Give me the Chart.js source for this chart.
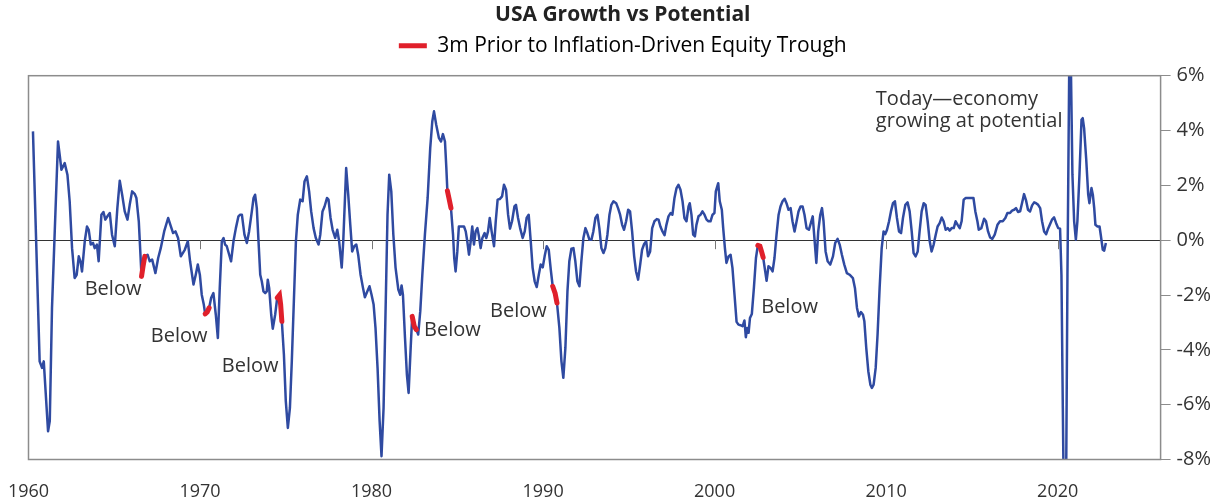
<!DOCTYPE html>
<html>
<head>
<meta charset="utf-8">
<title>USA Growth vs Potential</title>
<script src="https://cdn.jsdelivr.net/npm/chart.js@4"></script>
<style>
  html, body { margin: 0; padding: 0; background: #fff; }
  #wrap { width: 1220px; height: 502px; }
</style>
</head>
<body>
<div id="wrap"><canvas id="growthChart" width="1220" height="502"></canvas></div>
<script>
// Growth vs potential, %
const years = [
  1960.26, 1960.65, 1960.79, 1960.89, 1961.14, 1961.24, 1961.37, 1961.53, 1961.72, 1961.82,
  1961.92, 1962.11, 1962.27, 1962.40, 1962.54, 1962.69, 1962.81, 1962.93, 1963.03, 1963.12,
  1963.28, 1963.41, 1963.51, 1963.63, 1963.76, 1963.86, 1963.99, 1964.09, 1964.25, 1964.37,
  1964.48, 1964.60, 1964.74, 1964.87, 1965.03, 1965.18, 1965.32, 1965.46, 1965.61, 1965.77,
  1965.90, 1966.04, 1966.20, 1966.29, 1966.43, 1966.59, 1966.68, 1966.78, 1966.94, 1967.07,
  1967.21, 1967.40, 1967.56, 1967.71, 1967.91, 1968.14, 1968.30, 1968.43, 1968.57, 1968.72,
  1968.88, 1969.11, 1969.29, 1969.42, 1969.62, 1969.75, 1969.87, 1969.99, 1970.10, 1970.22,
  1970.30, 1970.42, 1970.53, 1970.65, 1970.78, 1970.92, 1971.04, 1971.15, 1971.27, 1971.37,
  1971.46, 1971.56, 1971.70, 1971.81, 1971.95, 1972.09, 1972.24, 1972.34, 1972.44, 1972.59,
  1972.73, 1972.86, 1973.02, 1973.12, 1973.21, 1973.31, 1973.41, 1973.51, 1973.60, 1973.70,
  1973.80, 1973.89, 1973.95, 1974.03, 1974.15, 1974.24, 1974.38, 1974.50, 1974.63, 1974.70,
  1974.77, 1974.89, 1975.00, 1975.12, 1975.24, 1975.35, 1975.47, 1975.59, 1975.70, 1975.84,
  1975.98, 1976.09, 1976.23, 1976.36, 1976.48, 1976.62, 1976.75, 1976.91, 1977.01, 1977.14,
  1977.26, 1977.40, 1977.49, 1977.61, 1977.73, 1977.88, 1978.00, 1978.11, 1978.26, 1978.35,
  1978.52, 1978.64, 1978.76, 1978.87, 1978.99, 1979.11, 1979.22, 1979.36, 1979.50, 1979.61,
  1979.75, 1979.88, 1980.00, 1980.12, 1980.23, 1980.35, 1980.47, 1980.58, 1980.70, 1980.82,
  1980.93, 1981.03, 1981.15, 1981.27, 1981.40, 1981.56, 1981.67, 1981.75, 1981.83, 1981.95,
  1982.06, 1982.16, 1982.28, 1982.37, 1982.49, 1982.61, 1982.72, 1982.84, 1982.96, 1983.11,
  1983.27, 1983.42, 1983.54, 1983.64, 1983.77, 1983.93, 1984.05, 1984.16, 1984.28, 1984.36,
  1984.42, 1984.51, 1984.63, 1984.75, 1984.82, 1984.90, 1985.00, 1985.09, 1985.23, 1985.39,
  1985.49, 1985.58, 1985.68, 1985.78, 1985.87, 1985.97, 1986.07, 1986.17, 1986.26, 1986.36,
  1986.46, 1986.59, 1986.69, 1986.79, 1986.89, 1987.00, 1987.14, 1987.24, 1987.35, 1987.47,
  1987.61, 1987.72, 1987.84, 1987.96, 1988.07, 1988.19, 1988.33, 1988.42, 1988.54, 1988.66,
  1988.81, 1988.93, 1989.04, 1989.16, 1989.28, 1989.39, 1989.51, 1989.63, 1989.75, 1989.86,
  1989.98, 1990.09, 1990.21, 1990.33, 1990.45, 1990.56, 1990.70, 1990.81, 1990.95, 1991.07,
  1991.18, 1991.30, 1991.42, 1991.53, 1991.65, 1991.77, 1991.88, 1992.00, 1992.12, 1992.23,
  1992.35, 1992.47, 1992.58, 1992.70, 1992.82, 1992.93, 1993.05, 1993.17, 1993.28, 1993.40,
  1993.52, 1993.63, 1993.75, 1993.87, 1993.98, 1994.10, 1994.26, 1994.37, 1994.49, 1994.61,
  1994.72, 1994.84, 1994.96, 1995.07, 1995.19, 1995.31, 1995.42, 1995.54, 1995.66, 1995.77,
  1995.89, 1996.01, 1996.12, 1996.24, 1996.36, 1996.49, 1996.63, 1996.73, 1996.84, 1996.96,
  1997.08, 1997.19, 1997.31, 1997.43, 1997.54, 1997.66, 1997.78, 1997.89, 1998.01, 1998.13,
  1998.24, 1998.36, 1998.48, 1998.55, 1998.65, 1998.75, 1998.85, 1998.94, 1999.06, 1999.18,
  1999.29, 1999.41, 1999.53, 1999.64, 1999.76, 1999.88, 1999.99, 2000.07, 2000.21, 2000.30,
  2000.42, 2000.50, 2000.60, 2000.69, 2000.81, 2000.93, 2001.04, 2001.16, 2001.28, 2001.39,
  2001.51, 2001.63, 2001.74, 2001.82, 2001.90, 2001.98, 2002.06, 2002.17, 2002.29, 2002.41,
  2002.52, 2002.64, 2002.73, 2002.83, 2002.95, 2003.03, 2003.14, 2003.26, 2003.38, 2003.49,
  2003.61, 2003.73, 2003.84, 2003.96, 2004.08, 2004.19, 2004.31, 2004.43, 2004.54, 2004.66,
  2004.78, 2004.89, 2005.01, 2005.13, 2005.24, 2005.36, 2005.50, 2005.72, 2005.93, 2006.04,
  2006.16, 2006.26, 2006.35, 2006.47, 2006.59, 2006.74, 2006.90, 2007.03, 2007.17, 2007.29,
  2007.42, 2007.56, 2007.71, 2007.87, 2008.06, 2008.18, 2008.30, 2008.41, 2008.53, 2008.65,
  2008.73, 2008.84, 2008.96, 2009.08, 2009.17, 2009.27, 2009.39, 2009.50, 2009.62, 2009.74,
  2009.85, 2009.95, 2010.05, 2010.17, 2010.28, 2010.40, 2010.51, 2010.63, 2010.75, 2010.87,
  2010.98, 2011.12, 2011.25, 2011.37, 2011.49, 2011.60, 2011.72, 2011.84, 2011.95, 2012.07,
  2012.19, 2012.30, 2012.42, 2012.54, 2012.65, 2012.77, 2012.89, 2013.00, 2013.12, 2013.24,
  2013.35, 2013.47, 2013.59, 2013.70, 2013.82, 2013.94, 2014.05, 2014.17, 2014.29, 2014.40,
  2014.52, 2014.64, 2014.76, 2014.91, 2015.09, 2015.20, 2015.32, 2015.40, 2015.55, 2015.71,
  2015.82, 2015.94, 2016.06, 2016.19, 2016.33, 2016.49, 2016.64, 2016.80, 2016.95, 2017.07,
  2017.22, 2017.34, 2017.46, 2017.57, 2017.69, 2017.81, 2017.92, 2018.04, 2018.16, 2018.27,
  2018.39, 2018.51, 2018.63, 2018.74, 2018.86, 2018.98, 2019.09, 2019.21, 2019.33, 2019.44,
  2019.56, 2019.67, 2019.79, 2019.91, 2020.03, 2020.14, 2020.22, 2020.30, 2020.40, 2020.46,
  2020.57, 2020.71, 2020.86, 2020.96, 2021.06, 2021.15, 2021.27, 2021.39, 2021.46, 2021.54,
  2021.66, 2021.78, 2021.85, 2021.97, 2022.05, 2022.13, 2022.20, 2022.32, 2022.44, 2022.51,
  2022.63, 2022.71, 2022.81
];

const growth = [
  3.97, -4.42, -4.66, -4.42, -6.97, -6.60, -2.47, 0.32, 3.60, 3.10,
  2.57, 2.81, 2.39, 1.42, -0.29, -1.38, -1.26, -0.59, -0.77, -1.14,
  -0.04, 0.50, 0.38, -0.16, -0.10, -0.29, -0.16, -0.77, 0.93, 1.03,
  0.75, 0.87, 0.99, 0.20, -0.22, 1.17, 2.17, 1.66, 1.05, 0.75,
  1.29, 1.78, 1.68, 1.54, 0.69, -1.32, -0.95, -0.59, -0.53, -0.77,
  -0.71, -1.20, -0.65, -0.29, 0.32, 0.81, 0.50, 0.26, 0.32, 0.08,
  -0.59, -0.35, -0.04, -0.77, -1.62, -1.26, -0.89, -1.26, -1.99, -2.35,
  -2.69, -2.62, -2.47, -2.10, -1.93, -2.72, -3.57, -1.74, -0.04, 0.08,
  -0.16, -0.22, -0.53, -0.77, -0.04, 0.44, 0.87, 0.93, 0.93, 0.20,
  -0.10, 0.32, 1.05, 1.54, 1.66, 1.17, -0.04, -1.26, -1.50, -1.87,
  -1.93, -1.87, -1.44, -1.74, -2.72, -3.23, -2.72, -2.10, -2.00, -2.35,
  -2.96, -4.17, -5.87, -6.85, -6.12, -4.42, -2.23, -0.04, 0.93, 1.48,
  1.42, 2.14, 2.33, 1.78, 1.05, 0.44, 0.08, -0.16, 0.20, 1.05,
  1.23, 1.54, 1.48, 0.81, 0.38, 0.08, 0.38, -0.04, -1.00, -0.04,
  2.63, 1.66, 0.56, -0.41, -0.22, -0.16, -0.53, -1.26, -1.74, -2.08,
  -1.87, -1.68, -1.99, -2.35, -3.20, -4.66, -6.60, -7.88, -6.12, -2.47,
  0.93, 2.39, 1.78, 0.20, -1.01, -1.80, -1.99, -1.65, -1.99, -3.57,
  -4.90, -5.57, -3.93, -2.78, -3.14, -3.26, -3.44, -2.59, -1.26, 0.20,
  1.54, 3.36, 4.33, 4.70, 4.21, 3.72, 3.60, 3.87, 3.60, 2.63,
  1.80, 1.54, 1.17, 0.20, -0.65, -1.14, -0.41, 0.50, 0.50, 0.50,
  0.32, -0.04, -0.53, -0.04, 0.50, -0.16, 0.32, 0.44, 0.14, -0.29,
  0.08, 0.26, 0.08, 0.32, 0.81, 0.32, -0.22, 0.69, 1.48, 1.50,
  1.60, 2.02, 1.84, 0.93, 0.42, 0.69, 1.23, 1.29, 0.81, 0.44,
  0.08, 0.32, 0.81, 0.93, -0.04, -1.01, -1.50, -1.71, -1.26, -0.89,
  -0.99, -0.59, -0.22, -0.35, -1.08, -1.68, -1.93, -2.29, -3.20, -4.42,
  -5.02, -3.93, -1.87, -0.77, -0.31, -0.29, -0.77, -1.50, -1.68, -0.77,
  0.08, 0.44, 0.26, 0.02, 0.02, 0.32, 0.81, 0.93, 0.44, -0.29,
  -0.47, -0.29, 0.20, 0.93, 1.29, 1.42, 1.35, 1.17, 0.93, 0.56,
  0.38, 0.69, 1.11, 1.05, 0.32, -0.59, -1.14, -1.44, -0.89, -0.35,
  -0.14, -0.04, -0.59, -0.41, 0.44, 0.69, 0.77, 0.75, 0.50, 0.32,
  0.18, 0.56, 0.87, 0.99, 0.93, 1.54, 1.90, 2.02, 1.84, 1.42,
  0.81, 0.69, 1.23, 1.35, 0.93, 0.20, 0.14, 0.56, 0.87, 0.93,
  1.05, 0.93, 0.75, 0.69, 0.69, 0.93, 0.99, 1.78, 2.08, 1.42,
  1.11, 0.44, -0.29, -0.83, -0.59, -0.53, -1.01, -1.99, -2.98, -3.08,
  -3.10, -3.14, -2.93, -3.54, -3.20, -3.38, -2.84, -2.69, -1.74, -0.65,
  -0.19, -0.22, -0.40, -0.63, -1.14, -1.48, -0.95, -1.01, -1.14, -0.65,
  0.20, 0.93, 1.23, 1.42, 1.51, 1.35, 1.11, 1.17, 0.69, 0.32,
  0.69, 1.05, 1.23, 1.23, 0.93, 0.44, 0.38, 0.87, -0.83, 0.32,
  0.93, 1.17, 0.69, -0.41, -0.77, -0.89, -0.59, -0.10, 0.05, -0.16,
  -0.53, -0.89, -1.20, -1.26, -1.38, -1.74, -2.47, -2.78, -2.62, -2.72,
  -2.96, -3.93, -4.78, -5.27, -5.39, -5.27, -4.66, -3.44, -1.74, -0.29,
  0.32, 0.22, 0.38, 0.69, 1.05, 1.35, 1.42, 0.81, 0.32, 0.26,
  0.81, 1.29, 1.38, 1.05, 0.32, -0.47, -0.59, -0.41, 0.32, 1.05,
  1.35, 1.29, 0.69, -0.04, -0.41, -0.16, 0.20, 0.50, 0.62, 0.83,
  0.69, 0.38, 0.44, 0.35, 0.44, 0.44, 0.69, 0.56, 0.44, 0.69,
  1.48, 1.54, 1.54, 1.54, 1.54, 1.05, 0.69, 0.38, 0.44, 0.78,
  0.69, 0.32, 0.10, 0.05, 0.20, 0.56, 0.69, 0.69, 0.81, 0.99,
  0.99, 1.08, 1.11, 1.17, 1.03, 1.05, 1.35, 1.68, 1.44, 1.11,
  1.05, 1.27, 1.38, 1.35, 1.29, 1.17, 0.69, 0.32, 0.22, 0.42,
  0.59, 0.75, 0.83, 0.62, 0.44, 0.42, -1.26, -6.12, -12.0, -12.0,
  -1.26, 9.00, 2.39, 0.69, 0.02, 0.69, 2.39, 4.39, 4.45, 4.09,
  2.99, 1.66, 1.35, 1.90, 1.66, 1.17, 0.56, 0.50, 0.50, 0.20,
  -0.35, -0.38, -0.10
];

// 3 months before each inflation-driven equity trough [from, to]
const troughWindows = [
  [1966.59, 1966.78],
  [1970.30, 1970.53],
  [1974.50, 1974.77],
  [1982.37, 1982.61],
  [1984.42, 1984.63],
  [1990.56, 1990.81],
  [2002.52, 2002.83]
];

const yTicks = [-8, -6, -4, -2, 0, 2, 4, 6];
const xTicks = [1960, 1970, 1980, 1990, 2000, 2010, 2020];

const seriesPoints = years.map((yr, i) => ({ x: yr, y: growth[i] }));
const inWindow = yr => troughWindows.some(w => yr >= w[0] - 1e-6 && yr <= w[1] + 1e-6);
const troughPoints = years.map((yr, i) => ({ x: yr, y: inWindow(yr) ? growth[i] : null }));

const textFont = '"Open Sans", "Noto Sans", sans-serif';

// text notes placed in data units
const notes = [
  { text: 'Below', x: 1964.93, y: -1.80 },
  { text: 'Below', x: 1968.78, y: -3.52 },
  { text: 'Below', x: 1972.92, y: -4.61 },
  { text: 'Below', x: 1984.71, y: -3.30 },
  { text: 'Below', x: 1988.56, y: -2.61 },
  { text: 'Below', x: 2004.37, y: -2.46 }
];

const decorPlugin = {
  id: 'decor',
  beforeLayout(chart) {
    // a little more room under the legend, like the original
    const lg = chart.legend;
    if (lg && !lg._extraRoom) {
      const fit = lg.fit;
      lg.fit = function () {
        fit.call(this);
        this.height += 9.5;
      };
      lg._extraRoom = true;
    }
  },
  beforeDatasetsDraw(chart) {
    const { ctx, scales: { x, y } } = chart;
    const y0 = y.getPixelForValue(0);
    ctx.save();
    ctx.strokeStyle = '#777';
    ctx.lineWidth = 1;
    xTicks.slice(1).forEach(t => {
      const px = Math.round(x.getPixelForValue(t)) + 0.5;
      ctx.beginPath();
      ctx.moveTo(px, y0);
      ctx.lineTo(px, y0 + 9);
      ctx.stroke();
    });
    ctx.restore();
  },
  afterDatasetsDraw(chart) {
    const { ctx, chartArea: a, scales: { x, y } } = chart;
    ctx.save();
    // frame
    ctx.strokeStyle = '#8c8c8c';
    ctx.lineWidth = 1.5;
    ctx.strokeRect(a.left, a.top, a.right - a.left, a.bottom - a.top);

    ctx.fillStyle = '#333';
    ctx.font = '20px ' + textFont;
    ctx.textAlign = 'center';
    ctx.textBaseline = 'middle';
    notes.forEach(n => ctx.fillText(n.text, x.getPixelForValue(n.x), y.getPixelForValue(n.y)));

    ctx.textAlign = 'left';
    const tx = x.getPixelForValue(2009.4);
    ctx.fillText('Today\u2014economy', tx, y.getPixelForValue(5.14));
    ctx.fillText('growing at potential', tx, y.getPixelForValue(4.34));
    ctx.restore();
  }
};

new Chart(document.getElementById('growthChart'), {
  type: 'line',
  data: {
    datasets: [
      {
        label: '3m Prior to Inflation-Driven Equity Trough',
        data: troughPoints,
        borderColor: '#e0202b',
        backgroundColor: '#e0202b',
        borderWidth: 5,
        borderCapStyle: 'round',
        pointRadius: 0,
        spanGaps: false,
        tension: 0
      },
      {
        label: 'USA growth vs potential',
        data: seriesPoints,
        borderColor: '#2f4aa1',
        borderWidth: 2.5,
        borderJoinStyle: 'round',
        pointRadius: 0,
        tension: 0
      }
    ]
  },
  options: {
    responsive: false,
    animation: false,
    devicePixelRatio: 1,
    layout: { padding: { left: 28.5, right: 3, top: 0, bottom: 0 } },
    plugins: {
      title: {
        display: true,
        text: 'USA Growth vs Potential',
        color: '#222',
        font: { family: textFont, size: 21, weight: 'bold' },
        padding: { top: 2, bottom: 2 }
      },
      legend: {
        display: true,
        labels: {
          color: '#333',
          font: { family: textFont, size: 21 },
          boxWidth: 28,
          boxHeight: 5,
          padding: 6,
          generateLabels: chart => [{
            text: chart.data.datasets[0].label,
            fillStyle: '#e0202b',
            strokeStyle: '#e0202b',
            lineWidth: 0,
            datasetIndex: 0
          }]
        }
      },
      tooltip: { enabled: false }
    },
    scales: {
      x: {
        type: 'linear',
        min: 1960,
        max: 2026,
        afterBuildTicks: axis => { axis.ticks = xTicks.map(v => ({ value: v })); },
        ticks: {
          color: '#333',
          font: { family: textFont, size: 18, lineHeight: 1.1 },
          padding: 0,
          maxRotation: 0,
          callback: v => String(v)
        },
        grid: { display: false, drawTicks: true, tickLength: 22.7 },
        border: { display: false }
      },
      y: {
        position: 'right',
        min: -8,
        max: 6,
        afterBuildTicks: axis => { axis.ticks = yTicks.map(v => ({ value: v })); },
        ticks: {
          color: '#333',
          font: { family: textFont, size: 20 },
          padding: 6,
          callback: v => v + '%'
        },
        grid: {
          drawOnChartArea: true,
          color: ctx => (ctx.tick && ctx.tick.value === 0 ? '#333' : 'rgba(0,0,0,0)'),
          tickColor: '#8c8c8c',
          tickLength: 10,
          lineWidth: 1
        },
        border: { display: false }
      }
    }
  },
  plugins: [decorPlugin]
});
</script>
</body>
</html>
